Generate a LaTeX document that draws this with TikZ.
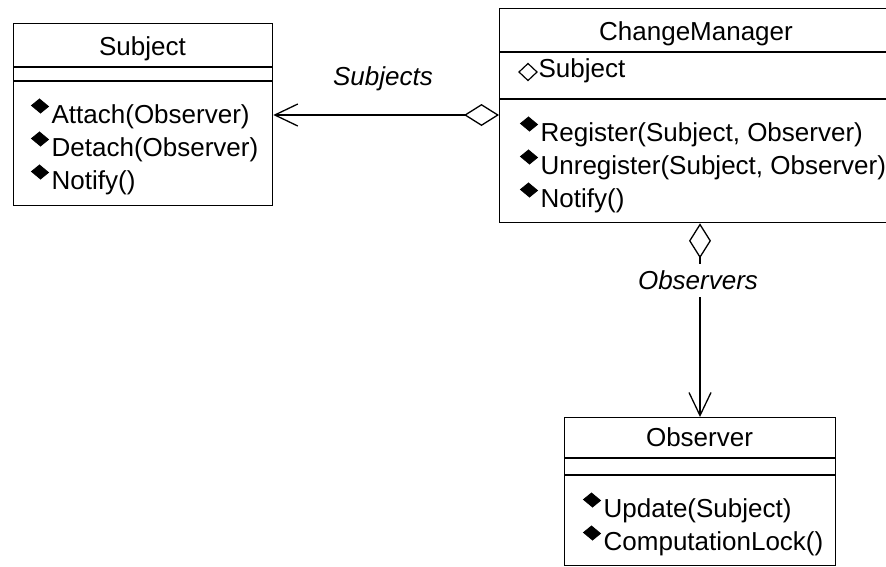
\documentclass[tikz,border=0pt]{standalone}
\usepackage{fontspec}
\setmainfont{Liberation Sans}
\usetikzlibrary{arrows.meta}
\begin{document}
\begin{tikzpicture}[x=1pt,y=-1pt, line width=1.3pt,
  classbox/.style={draw, rectangle, anchor=north west, inner sep=0pt, line width=1.3pt},
  ttl/.style={anchor=base, inner sep=0pt, font=\fontsize{26}{30}\selectfont},
  op/.style={anchor=base west, inner sep=0pt, font=\fontsize{26}{30}\selectfont},
  lbl/.style={inner sep=0pt, font=\fontsize{26}{30}\selectfont\itshape},
  opbullet/.style={fill=black, line width=0.8pt, draw=black},
  aggr/.style={line width=1.3pt,{Diamond[open,length=35pt,width=22pt]}-{Straight Barb[length=23pt,width=22pt]}},
]
\useasboundingbox (0,0) rectangle (886,566);

% ---- class boxes
\node[classbox, minimum width=259pt, minimum height=182pt] (subj) at (13,23) {};
\node[classbox, minimum width=395pt, minimum height=214pt] (cm) at (499,8) {};
\node[classbox, minimum width=271pt, minimum height=148pt] (obs) at (564,417) {};

% ---- separators
\coordinate (s1) at (0,67); \coordinate (s2) at (0,81);
\coordinate (c1) at (0,52); \coordinate (c2) at (0,99);
\coordinate (o1) at (0,458); \coordinate (o2) at (0,475);
\draw (subj.west |- s1) -- (subj.east |- s1);
\draw (subj.west |- s2) -- (subj.east |- s2);
\draw (cm.west |- c1) -- (cm.east |- c1);
\draw (cm.west |- c2) -- (cm.east |- c2);
\draw (obs.west |- o1) -- (obs.east |- o1);
\draw (obs.west |- o2) -- (obs.east |- o2);

% ---- titles
\node[ttl] (subjT) at (142.5,55) {Subject};
\node[ttl] (cmT) at (696,40) {ChangeManager};
\node[ttl] (obsT) at (699.5,446) {Observer};

% ---- attribute
\node[op] (cmAttr) at (538,77) {Subject};
\draw[line width=1.2pt] ([shift={(-19,-5)}]cmAttr.base west) -- ++(9,-8.5) -- ++(9,8.5) -- ++(-9,8.5) -- cycle;

% ---- operations
\node[op] (subjA) at (51,123) {Attach(Observer)};
\node[op] (subjD) at (51,156) {Detach(Observer)};
\node[op] (subjN) at (51,189) {Notify()};
\node[op] (cmR) at (540,141) {Register(Subject, Observer)};
\node[op] (cmU) at (540,174) {Unregister(Subject, Observer)};
\node[op] (cmN) at (540,207) {Notify()};
\node[op] (obsU) at (603,517) {Update(Subject)};
\node[op] (obsC) at (603,550) {ComputationLock()};
\foreach \n in {subjA,subjD,subjN,cmR,cmU,cmN,obsU,obsC}
  \draw[opbullet] ([shift={(-19.5,-17.5)}]\n.base west) -- ++(8,-6.5) -- ++(9,7.5) -- ++(-8,6.5) -- cycle;

% ---- connectors
\coordinate (subjY) at (0,115);
\coordinate (obsX) at (700,0);
\draw[aggr] (cm.west |- subjY) -- (subj.east |- subjY);
\draw[aggr] (obsX |- cm.south) -- (obsX |- obs.north);

% ---- role labels
\node[lbl, anchor=base] (subjL) at (383,85) {Subjects};
\node[lbl, fill=white, minimum height=33pt, inner xsep=2pt] (obsL) at (698,280.5) {Observers};
\end{tikzpicture}
\end{document}
